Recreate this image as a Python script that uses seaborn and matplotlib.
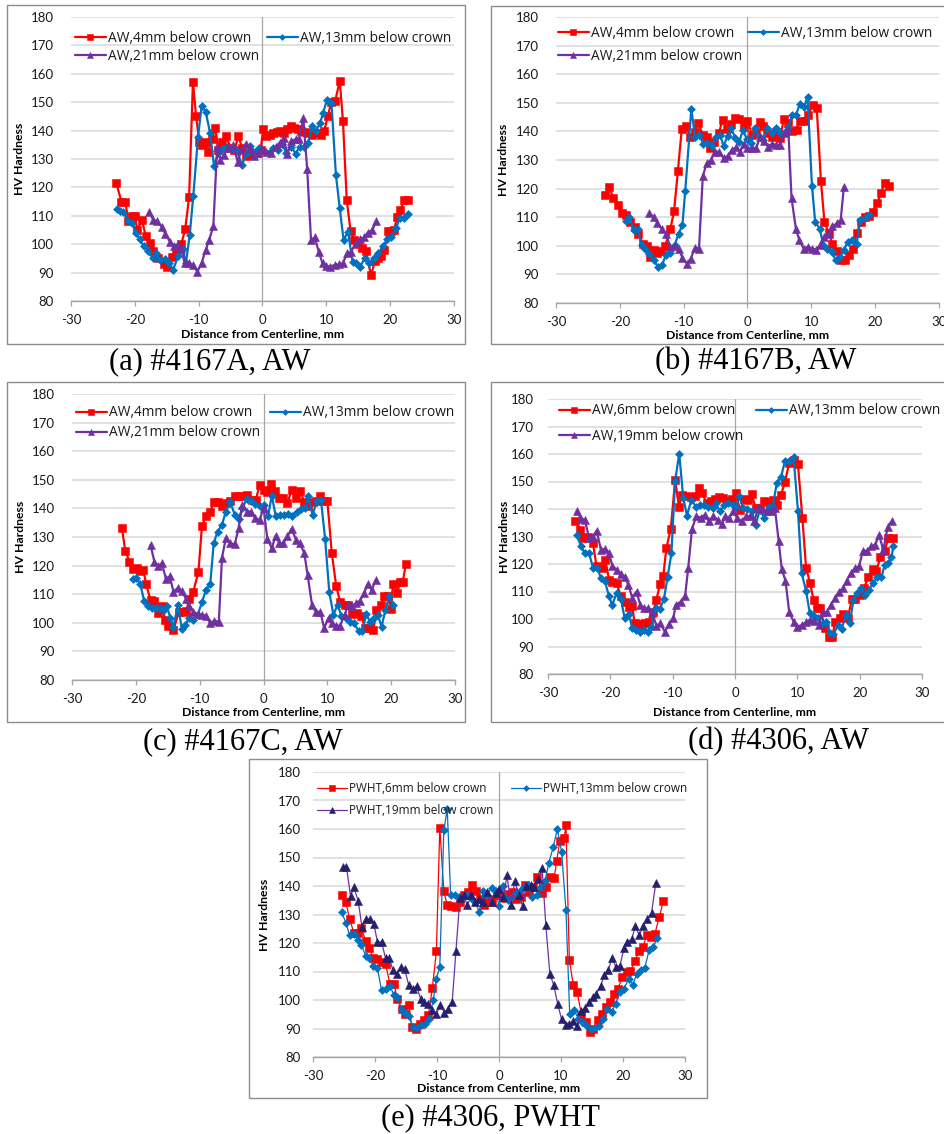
import matplotlib
matplotlib.use("Agg")
import matplotlib.pyplot as plt
from matplotlib.patches import Rectangle
from matplotlib.lines import Line2D
import pandas as pd
import seaborn as sns

# ---------------------------------------------------------------- data
# Hardness traverses: distance from weld centerline (mm) and HV hardness.

# (a) #4167A, AW
a_4mm_x = [-22.9, -22.1, -21.5, -21.0, -20.5, -20.0, -19.6, -18.9, -18.3, -17.7, -17.1, -16.3, -15.5, -15.0,
           -14.2, -13.5, -12.7, -12.1, -11.5, -10.9, -10.4, -9.9, -9.4, -8.9, -8.5, -7.9, -7.4, -6.9, -6.3,
           -5.7, -5.0, -4.4, -3.8, -3.2, -2.6, -2.0, -1.4, -0.8, -0.3, 0.1, 0.6, 1.1, 1.6, 2.2, 2.8, 3.3, 3.9,
           4.4, 5.0, 5.5, 6.0, 6.6, 7.2, 7.8, 8.5, 9.1, 9.7, 10.2, 10.8, 11.4, 12.1, 12.6, 13.2, 13.8, 14.4,
           15.0, 15.6, 16.2, 17.0, 17.6, 18.1, 18.6, 19.1, 19.6, 20.1, 20.6, 21.1, 21.6, 22.2, 22.8]
a_4mm_hv = [121.5, 115, 115, 108, 110, 110, 105, 108.5, 103, 100.5, 97.5, 95, 93, 92,
            95.5, 97.5, 100, 105.5, 116.5, 157, 145, 136, 135, 136, 132.5, 137, 141, 133, 136,
            138, 134, 133, 138, 134, 131, 131.5, 132, 132, 133, 140.5, 138, 138.5, 139, 139.5, 140, 139, 140.5,
            141.5, 141, 140.5, 140, 139.5, 139, 138.5, 139, 138.5, 140, 145, 150, 150.5, 157.5, 143.5, 115.5, 104.5, 101.5,
            100, 98.5, 97.5, 89, 94, 95, 96, 98, 104.5, 104.5, 105, 109.5, 112, 115.5, 115.5]
a_13mm_x = [-22.85, -22.4, -21.8, -21.0, -20.4, -19.8, -19.2, -18.6, -17.9, -17.2, -16.7, -16.1, -15.3, -14.6,
            -14.0, -13.2, -12.5, -12.0, -11.4, -10.85, -10.1, -9.55, -8.9, -8.2, -7.6, -6.9, -6.3, -5.6, -4.85,
            -4.1, -3.2, -2.5, -1.9, -1.2, -0.5, 0.4, 1.0, 1.7, 2.45, 3.1, 3.75, 4.5, 5.2, 5.8, 6.5, 7.15, 7.7,
            8.35, 9.0, 9.5, 10.1, 10.8, 11.5, 12.1, 12.7, 13.4, 14.1, 14.7, 15.3, 16.0, 16.7, 17.4, 18.1, 18.9,
            19.5, 20.2, 20.9, 21.5, 22.1, 22.8]
a_13mm_hv = [112.4, 111.7, 111.3, 108, 107.4, 103.9, 101.7, 99.2, 97.7, 95, 96.8, 94.5, 94.7, 93.3,
             91, 95.9, 98.2, 93.3, 103.3, 116.8, 137.7, 148.5, 146.7, 139, 127.7, 132.1, 133.6, 134.4, 133.5,
             133.2, 128, 132, 134.6, 132.6, 133.8, 132.6, 132, 133.8, 133, 135.2, 132, 134.4, 131.8, 134.4, 134.4, 135.6, 141.5,
             139.7, 142.6, 146.2, 150.9, 149.7, 124.4, 112.7, 101.5, 104.4, 93.9, 93.3, 92.1, 95, 93.3, 95, 96.8, 99.2,
             101.7, 102.4, 105.6, 109.1, 109.1, 110.6]
a_21mm_x = [-17.8, -17.1, -16.5, -15.8, -15.2, -14.5, -13.9, -13.2, -12.7, -12.2, -11.5, -10.85, -10.2, -9.55,
            -8.9, -8.35, -7.7, -7.1, -6.6, -6.0, -5.4, -4.6, -3.9, -3.3, -2.6, -2.0, -1.4, -0.7, 0.0, 0.6, 1.4,
            2.1, 2.7, 3.3, 3.9, 4.5, 5.2, 5.7, 6.4, 7.0, 7.6, 8.2, 8.8, 9.4, 10.0, 10.6, 11.3, 12.0, 12.6, 13.25,
            13.9, 14.6, 15.2, 15.9, 16.5, 17.2, 17.8]
a_21mm_hv = [111.3, 108.6, 108, 106.2, 103.5, 100.9, 99.2, 100.1, 98.2, 93.3, 93.3, 92.7, 90.3, 93.3,
             98, 101.5, 106.4, 134.4, 129.7, 131.5, 133.8, 135, 129.1, 133.2, 135.3, 133.8, 131.1, 132, 133.5, 132.6, 132,
             134.4, 135.8, 137.3, 131.8, 136.2, 137, 137, 144.4, 126.4, 101.5, 102.4, 97.4, 93.3, 92.3, 92.1, 92.7, 92.9, 93.3, 96.8,
             97.4, 100.3, 101.7, 102.4, 104.1, 105, 108]

# (b) #4167B, AW
b_4mm_x = [-22.3, -21.7, -21.0, -20.3, -19.7, -19.0, -18.4, -17.7, -17.1, -16.4, -15.75, -15.3, -14.7, -14.1,
           -13.5, -12.9, -12.1, -11.5, -10.9, -10.3, -9.65, -9.0, -8.3, -7.7, -7.0, -6.4, -5.8, -5.2, -4.5,
           -3.9, -3.2, -2.6, -2.0, -1.3, -0.6, 0.0, 0.7, 1.3, 1.9, 2.5, 3.1, 3.8, 4.4, 5.1, 5.7, 6.4, 7.0, 7.7,
           8.2, 9.0, 9.5, 10.2, 10.85, 11.5, 12.05, 12.7, 13.3, 14.0, 14.6, 15.3, 15.9, 16.6, 17.1, 17.8, 18.4,
           19.0, 19.7, 20.3, 20.9, 21.5, 22.2]
b_4mm_hv = [117.7, 120.7, 116.6, 114.2, 111.3, 110.7, 108.4, 106.6, 104.3, 100.8, 99.9, 96.1, 98.5, 97.5,
            98.2, 99.9, 105.7, 112.2, 126.3, 140.7, 141.9, 138.2, 139.9, 142.8, 138.8, 138, 134.1, 136.4, 139.3,
            144, 140.7, 142.6, 144.6, 144.3, 141.7, 143.8, 138.8, 139.3, 143.2, 141.9, 139.3, 138.2, 139.9, 137.6, 144.3, 142.9, 140.2, 140.5,
            143.8, 143.8, 145.8, 149.3, 148.1, 122.8, 108.4, 104.5, 100.8, 98.2, 95.2, 95, 96.7, 99, 104.5, 108.4, 110.1,
            110.4, 111.9, 114.8, 118.3, 122.1, 121]
b_13mm_x = [-19.1, -18.5, -17.8, -17.2, -16.6, -16.0, -15.4, -14.7, -14.0, -13.4, -12.8, -12.1, -11.4, -10.8,
            -10.2, -9.75, -8.8, -8.2, -7.6, -6.9, -6.3, -5.6, -5.0, -4.3, -3.75, -3.1, -2.55, -1.9, -1.3, -0.7,
            -0.1, 0.5, 1.2, 1.8, 2.5, 3.1, 3.8, 4.5, 5.1, 5.8, 6.4, 7.0, 7.6, 8.2, 8.9, 9.4, 10.1, 10.6, 11.3,
            11.9, 12.5, 13.2, 13.8, 14.5, 15.1, 15.7, 16.3, 17.1, 17.7, 18.4, 19.0]
b_13mm_hv = [108.7, 109.9, 105.5, 106, 100.2, 99, 97.3, 95, 92.6, 93.2, 96.7, 97.5, 100.2, 104.3,
             107.2, 119.3, 147.9, 137.9, 138.8, 135.6, 136.1, 134.9, 137.9, 138.8, 134.9, 138.5, 141.1, 137.6, 136.4, 140.5,
             137.2, 135.8, 141.1, 138.4, 137, 141.1, 139.3, 141.1, 139.3, 139.9, 141.4, 145.8, 145.8, 149.6, 148.7, 152.2, 120.9, 108.4, 106,
             100.2, 99, 97.9, 95, 96.1, 98.5, 101.4, 102, 100.8, 109, 109.6, 110.7]
b_21mm_x = [-15.4, -14.7, -14.1, -13.4, -12.8, -12.1, -11.4, -10.8, -10.2, -9.5, -8.9, -8.2, -7.6, -7.0,
            -6.4, -5.7, -5.1, -4.4, -3.75, -3.1, -2.45, -1.8, -1.15, -0.6, 0.0, 0.7, 1.35, 2.0, 2.6, 3.2, 3.8,
            4.5, 5.1, 5.8, 6.4, 6.9, 7.6, 8.1, 8.8, 9.4, 10.1, 10.7, 11.4, 12.0, 12.7, 13.3, 14.0, 14.6, 15.1]
b_21mm_hv = [111.3, 110.1, 108, 105.7, 104.3, 99.6, 99.9, 99, 95.9, 93.8, 95.5, 99.4, 99, 124.4,
             128.8, 130, 132.9, 132.9, 130.6, 131.4, 133.5, 134.4, 132.9, 135.6, 134.1, 134.1, 134.1, 138.2, 136.8, 134.7, 135.6,
             135.3, 135.3, 139.6, 140.5, 116.6, 105.7, 102.2, 99, 99.6, 99, 98.7, 100.2, 103.1, 104.3, 106.9, 107.8, 109, 120.7]

# (c) #4167C, AW
c_4mm_x = [-22.2, -21.65, -21.0, -20.45, -19.8, -19.3, -18.8, -18.4, -17.7, -17.1, -16.6, -15.9, -15.4, -14.9,
           -14.1, -13.3, -12.6, -12.1, -11.6, -11.0, -10.2, -9.65, -9.0, -8.35, -7.8, -7.15, -6.5, -5.8, -5.2,
           -4.5, -3.9, -3.2, -2.6, -1.8, -1.2, -0.6, 0.0, 0.6, 1.15, 1.8, 2.5, 3.1, 3.75, 4.4, 5.1, 5.7, 6.4,
           7.0, 7.7, 8.2, 8.8, 9.4, 10.0, 10.7, 11.4, 12.0, 12.7, 13.3, 13.9, 14.6, 15.3, 15.9, 16.6, 17.2,
           17.7, 18.4, 18.9, 19.5, 19.9, 20.3, 20.95, 21.4, 21.8, 22.3]
c_4mm_hv = [133.3, 125.2, 121.4, 118.9, 119.1, 118.2, 118.5, 113.5, 108, 107.7, 103.3, 105.7, 101, 99,
            97.5, 103.7, 103.9, 104.2, 108.4, 110.9, 117.7, 133.7, 137.5, 138.7, 142.2, 142.4, 140.7, 141.8, 142.7,
            144.5, 144.5, 144.2, 144.8, 143, 143, 148.3, 146.5, 145.9, 148.5, 146.2, 143.8, 143.6, 141.8, 146.5, 143.8, 146.2, 142.4,
            141, 142.2, 142.7, 144.2, 142.7, 142.7, 124.3, 112.7, 107.4, 106.3, 106.3, 103, 103.3, 102.5, 98.3, 98.1, 97.5,
            104.5, 106.3, 109.2, 109.2, 104.9, 113.5, 110.3, 114.4, 114.2, 120.5]
c_13mm_x = [-20.45, -19.9, -19.3, -18.7, -18.1, -17.5, -16.8, -16.2, -15.65, -15.1, -14.6, -14.1, -13.4, -12.8,
            -12.3, -11.6, -11.0, -10.3, -9.65, -9.0, -8.35, -7.8, -7.2, -6.5, -5.9, -5.2, -4.5, -3.9, -3.3,
            -2.6, -2.0, -1.3, -0.6, 0.0, 0.7, 1.3, 1.9, 2.6, 3.2, 3.9, 4.5, 5.2, 5.85, 6.5, 7.0, 7.7, 8.35,
            9.0, 9.65, 10.3, 10.95, 11.6, 12.2, 12.9, 13.6, 14.2, 14.9, 15.5, 16.1, 16.7, 17.3, 17.9, 18.5,
            19.1, 19.7, 20.3]
c_13mm_hv = [115.4, 115.8, 113.5, 107.7, 106, 105.1, 105.3, 105.1, 104.5, 105.7, 101.6, 98.7, 106.3, 97.9,
             99.3, 101.6, 101, 102.8, 107.2, 111.5, 113.5, 127.8, 131.9, 134.3, 138.9, 142.2, 137.8, 136.4, 140.1,
             143.4, 142.7, 141.5, 141, 141.3, 137.2, 144.5, 137.5, 137.8, 137.8, 138, 137.5, 138.7, 139.9, 140.3, 144.2, 137.8, 142.7,
             143, 129.4, 110.9, 102.8, 106.3, 102.5, 101.8, 100.4, 99.8, 97.2, 97.2, 103, 100.4, 101.6, 102.8, 98.7,
             104.5, 109.5, 106.3]
c_21mm_x = [-17.7, -17.1, -16.5, -15.9, -15.3, -14.7, -14.1, -13.45, -12.8, -12.15, -11.6, -11.0, -10.3, -9.65,
            -9.0, -8.35, -7.7, -7.0, -6.5, -5.9, -5.2, -4.5, -3.9, -3.3, -2.6, -2.0, -1.3, -0.6, 0.0, 0.6, 1.3,
            1.9, 2.5, 3.1, 3.75, 4.4, 5.1, 5.7, 6.4, 6.9, 7.6, 8.2, 8.9, 9.5, 10.2, 10.8, 11.4, 12.0, 12.7, 13.3,
            13.9, 14.5, 15.1, 15.75, 16.3, 16.95, 17.6]
c_21mm_hv = [127.3, 121.4, 119.7, 120.8, 115.4, 116.2, 110.9, 112.1, 111.2, 108.4, 105.7, 103.9, 103, 102.8,
             102.5, 99.8, 100.7, 100.4, 122.8, 129.6, 127.8, 127.5, 133.1, 141.3, 138.9, 138.9, 136.6, 136, 140.3, 129.4, 126.1,
             130.5, 127.8, 127.8, 130.2, 132.9, 129, 127.8, 124.3, 116.8, 106.3, 103.7, 103.9, 98.1, 101.8, 99.8, 99, 99, 102.8, 106.3,
             106, 106.8, 107.7, 110.3, 113.5, 111.5, 115]

# (d) #4306, AW
d_6mm_x = [-25.6, -24.9, -24.4, -23.6, -22.8, -22.2, -21.4, -20.8, -20.2, -19.7, -19.0, -18.3, -17.7, -17.0,
           -16.5, -16.1, -15.5, -15.0, -14.5, -13.8, -13.1, -12.6, -12.05, -11.5, -11.0, -10.3, -9.6, -9.0, -8.5,
           -7.8, -7.1, -6.4, -5.8, -5.25, -4.55, -3.9, -3.2, -2.6, -1.9, -1.2, -0.55, 0.1, 0.8, 1.5, 2.1, 2.7,
           3.3, 4.0, 4.7, 5.4, 6.05, 6.7, 7.4, 8.0, 8.7, 9.4, 10.1, 10.8, 11.4, 12.05, 12.6, 13.1, 13.7, 14.4,
           15.0, 15.6, 16.1, 16.8, 17.3, 18.1, 18.75, 19.3, 20.1, 20.7, 21.4, 22.1, 22.7, 23.3, 24.0, 24.6, 25.3]
d_6mm_hv = [135.5, 132.4, 129.4, 130, 127.6, 119.1, 118.5, 121.5, 114.2, 113.4, 113, 108.2, 106.3, 104.5,
            104.9, 98.4, 98.1, 98.1, 98.4, 99, 102.7, 107, 112.6, 115.8, 126, 132.8, 150.6, 140.9, 145.2,
            144.9, 144.2, 144.6, 147.6, 145.8, 142.1, 143, 143.7, 144.2, 144, 143, 143.7, 145.8, 139.7, 143.7, 143.4, 145.4,
            140.3, 140.3, 143, 142.7, 143.4, 141.3, 145.2, 149.8, 156.7, 157.9, 156.3, 136.9, 118.7, 113, 106.9, 103.9, 103.9, 96.6,
            93.6, 93.6, 99, 100.3, 101.7, 100.3, 107.3, 107.3, 108.8, 111.2, 115.4, 118.2, 117.5, 122.4, 124.8, 129.4, 129.4]
d_13mm_x = [-25.4, -24.7, -24.1, -23.4, -22.8, -22.1, -21.5, -20.9, -20.2, -19.7, -19.0, -18.3, -17.7, -17.0,
            -16.5, -15.9, -15.3, -14.6, -14.0, -13.4, -12.7, -12.05, -11.4, -10.8, -10.2, -9.6, -8.95, -8.3, -7.7,
            -7.0, -6.3, -5.6, -5.0, -4.3, -3.6, -3.1, -2.4, -1.7, -1.1, -0.4, 0.2, 0.7, 1.3, 2.0, 2.7, 3.3,
            4.0, 4.7, 5.4, 6.05, 6.7, 7.4, 8.0, 8.7, 9.4, 10.1, 10.7, 11.4, 12.0, 12.6, 13.3, 13.9, 14.6, 15.2,
            15.8, 16.5, 17.1, 17.8, 18.4, 19.0, 19.65, 20.25, 20.9, 21.5, 22.1, 22.8, 23.5, 24.0, 24.6, 25.1, 25.4]
d_13mm_hv = [130.6, 126.4, 123.9, 123.9, 118.7, 118.7, 114.8, 113.9, 108.2, 105.1, 109.4, 107.3, 100.3, 101.7,
             96.6, 96, 95.2, 96, 95.4, 97.2, 103.9, 103.5, 107.3, 115.4, 123.9, 150.3, 160.1, 144, 137.6,
             143.4, 140.9, 141.3, 141.5, 140.6, 140.3, 142.1, 139.1, 141.3, 142.1, 141.5, 140.9, 144.6, 140.3, 140.1, 139.3, 134.2,
             139.7, 136.7, 140.6, 140.9, 149.4, 151.8, 157.3, 157.5, 158.8, 139.3, 116.6, 110.2, 102.1, 101.2, 100.3, 98.1, 99, 94.8,
             94.4, 97.8, 96.4, 101.5, 98.4, 106.9, 109.4, 111.2, 108.8, 110.6, 113, 115.1, 115.1, 119.7, 120.5, 122.4, 126.4]
d_19mm_x = [-25.4, -24.7, -24.1, -23.4, -22.8, -22.2, -21.5, -20.9, -20.2, -19.7, -19.0, -18.3, -17.7, -17.1,
            -16.5, -15.8, -15.2, -14.6, -14.0, -13.3, -12.6, -12.0, -11.25, -10.6, -9.9, -9.5, -8.7, -8.0, -7.5,
            -6.9, -6.2, -5.5, -4.8, -4.2, -3.5, -2.8, -2.1, -1.6, -0.9, -0.3, 0.4, 1.1, 1.8, 2.4, 3.1, 3.75,
            4.4, 5.1, 5.8, 6.4, 7.0, 7.5, 8.1, 8.7, 9.4, 10.0, 10.7, 11.4, 12.05, 12.75, 13.4, 14.1, 14.7, 15.4,
            16.1, 16.7, 17.3, 17.9, 18.6, 19.3, 19.9, 20.5, 21.2, 21.8, 22.5, 23.1, 23.8, 24.5, 25.2]
d_19mm_hv = [139.3, 136.4, 136.1, 129.4, 130, 132.1, 125.1, 125.5, 123.9, 119.4, 117.9, 116.3, 115.4, 112.4,
             107.8, 110, 105.1, 103.9, 103.9, 102.1, 97.6, 98.4, 95.4, 98.1, 100.3, 105.1, 106.3, 108.5, 118.7,
             132.8, 137.3, 136.9, 137.9, 135.5, 137.3, 136.1, 134.5, 137.3, 136.7, 139.3, 136.7, 135.5, 137.3, 137.3, 135.7, 140.3,
             140.1, 139.3, 139.1, 140.3, 128.4, 118.2, 113.9, 102.5, 99, 97.2, 97.8, 98.8, 99.7, 99.3, 97.8, 102.7, 102.4, 105.1,
             107.8, 110, 111.2, 113.9, 116.7, 118.7, 119.1, 124.8, 124.8, 126.4, 127, 130.6, 125.1, 133.6, 135.7]

# (e) #4306, PWHT
e_6mm_x = [-25.4, -24.7, -24.1, -23.4, -22.7, -22.2, -21.5, -20.9, -20.3, -19.6, -18.95, -18.3, -17.6, -16.95,
           -16.4, -15.7, -15.1, -14.5, -14.1, -13.4, -12.8, -12.1, -11.4, -10.75, -10.1, -9.55, -8.9, -8.35, -7.7,
           -7.0, -6.3, -5.7, -5.0, -4.3, -3.7, -3.1, -2.4, -1.75, -1.05, -0.4, 0.3, 0.95, 1.65, 2.3, 2.8, 3.5,
           4.2, 4.9, 5.5, 6.2, 6.9, 7.6, 8.2, 8.9, 9.3, 9.8, 10.5, 10.8, 11.35, 12.0, 12.6, 13.3, 14.0, 14.6,
           15.2, 15.9, 16.55, 17.2, 17.9, 18.5, 19.2, 19.9, 20.6, 21.2, 21.9, 22.6, 23.25, 23.8, 24.45, 25.15,
           25.85, 26.5]
e_6mm_hv = [137, 134.4, 128.3, 123.6, 123.6, 125.3, 120.6, 118.2, 114.7, 114.3, 113.3, 112.7, 105.7, 105.7,
            100.5, 96.7, 95.2, 98.4, 90.5, 89.9, 91.7, 92.9, 94.6, 104.2, 117.1, 160.4, 138.1, 133.2, 133,
            132.6, 134.4, 137, 137.9, 140.2, 138.1, 135.3, 133.4, 135.6, 134.4, 137, 137, 135.8, 137.3, 137.9, 135.3, 136.1,
            140.5, 137.9, 139.6, 143.2, 137.7, 139.6, 143.2, 142.8, 148.7, 155.7, 156.8, 161.3, 113.9, 105.1, 102.8, 94.9, 92.3, 88.8,
            89.9, 92.9, 95.2, 97.5, 99.3, 102.2, 104, 108.1, 109.8, 110.1, 113.6, 117.1, 118.6, 122.7, 122.1, 123.3,
            129.1, 134.6]
e_13mm_x = [-25.4, -24.7, -24.1, -23.4, -22.7, -22.2, -21.5, -20.9, -20.3, -19.6, -18.95, -18.3, -17.6, -16.95,
            -16.4, -15.7, -15.1, -14.5, -13.9, -13.2, -12.5, -11.9, -11.3, -10.6, -10.1, -9.55, -8.9, -8.35, -7.8,
            -7.1, -6.5, -5.8, -5.1, -4.45, -3.8, -3.2, -2.55, -1.9, -1.2, -0.5, 0.0, 0.7, 1.4, 2.0, 2.7, 3.4,
            4.0, 4.7, 5.35, 6.05, 6.7, 7.4, 8.05, 8.75, 9.4, 10.1, 10.8, 11.4, 12.1, 12.8, 13.4, 14.1, 14.8,
            15.5, 16.1, 16.8, 17.5, 18.2, 18.8, 19.5, 20.2, 20.9, 21.6, 22.2, 22.85, 23.5, 24.2, 24.9, 25.5]
e_13mm_hv = [130.9, 127.1, 122.7, 123.3, 120.9, 119.4, 115.4, 114.7, 111.9, 111.2, 103.4, 103.7, 104.9, 101.9,
             101.1, 96.4, 95.6, 94.4, 90.5, 90.2, 91.3, 91.7, 93.5, 99.9, 107.5, 111.6, 159.5, 166.9, 137,
             136.7, 136.1, 135.8, 137, 135.8, 134.4, 130.9, 138.1, 137, 139.3, 138.1, 133, 140, 135, 135.8, 137.7, 138.1,
             139.6, 140.5, 136.1, 136.7, 139.6, 141.6, 148.2, 153.7, 159.9, 151.9, 131.5, 95.2, 96.4, 93.5, 92.3, 91.3, 89.9,
             90.2, 90.9, 93.5, 96.7, 95.8, 98.7, 102.8, 104, 107.5, 105.1, 109.2, 110.4, 111.2, 117.4, 118.6, 121.8]
e_19mm_x = [-25.2, -24.6, -23.95, -23.4, -22.7, -22.1, -21.5, -20.85, -20.2, -19.6, -18.95, -18.3, -17.7, -17.1,
            -16.45, -15.85, -15.2, -14.55, -13.95, -13.3, -12.65, -12.05, -11.4, -10.75, -10.1, -9.45, -8.85, -8.2,
            -7.55, -6.95, -6.3, -5.7, -5.1, -4.45, -3.8, -3.2, -2.55, -1.9, -1.2, -0.55, 0.0, 0.7, 1.3, 1.9, 2.55,
            3.2, 3.8, 4.4, 5.1, 5.7, 6.3, 6.95, 7.55, 8.2, 8.85, 9.45, 10.1, 10.75, 11.35, 12.0, 12.6, 13.2, 13.85,
            14.5, 15.1, 15.7, 16.4, 16.95, 17.6, 18.25, 18.85, 19.5, 20.15, 20.7, 21.4, 22.0, 22.6, 23.3, 23.9,
            24.6, 25.3]
e_19mm_hv = [146.7, 146.7, 136.5, 139.6, 134.6, 125.6, 128.5, 128.5, 126.8, 120.4, 120.4, 114.7, 114.7, 110.4,
             109.2, 111.6, 110.8, 105.1, 103.7, 104.9, 100.5, 99.3, 98.7, 96.4, 95.2, 98.4, 95.6, 97,
             99.3, 117.1, 135.8, 136.7, 133.2, 136.7, 134.4, 135.6, 134.4, 137.9, 134.4, 137.7, 139.1, 136.1, 143.7, 133.4, 141.6,
             137, 133, 140, 140.2, 139.6, 142.3, 146.3, 126.4, 109.2, 105.1, 98.7, 93.2, 91.3, 91.7, 92.5, 90.9, 96, 97.2,
             99.3, 101.1, 102.2, 104.9, 108.7, 110.4, 114.7, 111.6, 111.9, 118.2, 120.4, 121.3, 126, 122.7, 126, 128.5,
             130.6, 141.2]

labels_abc = ["AW,4mm below crown", "AW,13mm below crown", "AW,21mm below crown"]
labels_d = ["AW,6mm below crown", "AW,13mm below crown", "AW,19mm below crown"]
labels_e = ["PWHT,6mm below crown", "PWHT,13mm below crown", "PWHT,19mm below crown"]
captions = ["(a) #4167A, AW", "(b) #4167B, AW", "(c) #4167C, AW", "(d) #4306, AW", "(e) #4306, PWHT"]
x_ticks = [-30, -20, -10, 0, 10, 20, 30]
y_ticks = [80, 90, 100, 110, 120, 130, 140, 150, 160, 170, 180]

# ---------------------------------------------------------------- style
sns.set_theme(style="white")
plt.rcParams["font.family"] = ["Lato", "DejaVu Sans"]

W, H = 945, 1134
fig = plt.figure(figsize=(W / 100, H / 100), dpi=100)

RED, BLUE, PURPLE, NAVY = "#FF0000", "#0070C0", "#7030A0", "#24206E"
GRID, AXIS, FRAME = "#D9D9D9", "#A6A6A6", "#8C8C8C"
LEGEND_FONT = ["Open Sans", "DejaVu Sans"]


def to_frame(df_x, df_y, name):
    return pd.DataFrame({"x": df_x, "hv": df_y, "series": name})


def panel(plot_px, frame_px, cap_xy, series, labels, thin, leg, xlab_off, ylab_off, ytick_pad):
    l, t, r, b = plot_px
    ax = fig.add_axes([l / W, 1 - b / H, (r - l) / W, (b - t) / H])
    ax.patch.set_alpha(0)

    # chart-area frame and caption
    fl, ft, fr, fb = frame_px
    fig.add_artist(Rectangle((fl / W, 1 - fb / H), (fr - fl) / W, (fb - ft) / H,
                             transform=fig.transFigure, fill=False, edgecolor=FRAME, lw=1.0))
    fig.text(cap_xy[0] / W, 1 - cap_xy[1] / H, cap_xy[2], family="Liberation Serif",
             fontsize=22, ha="center", va="center", color="black")

    lw = 0.9 if thin else 1.6
    styles = [
        dict(color=RED, marker="s", markersize=6.0 if thin else 5.4, mfc=RED, mec=RED),
        dict(color=BLUE, marker="D", markersize=4.0 if thin else 3.6, mfc=BLUE, mec=BLUE),
        dict(color=PURPLE, marker="^", markersize=6.0 if thin else 5.6,
             mfc=NAVY if thin else PURPLE, mec=NAVY if thin else PURPLE),
    ]
    leg_ms = [4.6, 3.0, 4.6]
    handles = []
    for (sx, sy), lab, st, lms in zip(series, labels, styles, leg_ms):
        df = to_frame(sx, sy, lab)
        sns.lineplot(data=df, x="x", y="hv", ax=ax, sort=False, estimator=None,
                     color=st["color"], linewidth=lw, marker=st["marker"],
                     markersize=st["markersize"], markerfacecolor=st["mfc"],
                     markeredgecolor=st["mec"], markeredgewidth=0.4, legend=False, zorder=3)
        handles.append(Line2D([], [], color=st["color"], lw=lw, marker=st["marker"],
                              markersize=lms, markerfacecolor=st["mfc"],
                              markeredgecolor=st["mec"], markeredgewidth=0.4))

    ax.set_xlim(-30, 30)
    ax.set_ylim(80, 180)
    ax.set_xticks(x_ticks)
    ax.set_yticks(y_ticks)
    ax.set_xticklabels([str(v) for v in x_ticks])
    ax.set_yticklabels([str(v) for v in y_ticks])
    ax.yaxis.grid(True, color=GRID, lw=1.1, zorder=0)
    ax.xaxis.grid(False)
    ax.set_axisbelow(True)
    ax.axvline(0, color=AXIS, lw=0.9, zorder=1)
    for s in ["left", "right", "top"]:
        ax.spines[s].set_visible(False)
    ax.spines["bottom"].set_color(AXIS)
    ax.spines["bottom"].set_linewidth(1.0)
    ax.tick_params(axis="x", direction="out", length=3.5, width=0.9, color=AXIS,
                   pad=6, labelsize=9.5, labelcolor="#1a1a1a", bottom=True)
    ax.tick_params(axis="y", length=0, pad=ytick_pad, labelsize=9.5, labelcolor="#1a1a1a")

    ax.set_xlabel("Distance from Centerline, mm", fontsize=8.8, fontweight="bold", color="black")
    ax.set_ylabel("HV Hardness", fontsize=8.8, fontweight="bold", color="black")
    ax.xaxis.label.set_verticalalignment("center")
    ax.yaxis.label.set_verticalalignment("center")
    ax.xaxis.set_label_coords(0.5, -xlab_off / (b - t))
    ax.yaxis.set_label_coords(-ylab_off / (r - l), 0.5)

    # legend entries: red and purple stacked on the left, blue beside red
    hx, row1, row2, col2, fs, hlen, hpad = leg
    ax_x = lambda px: (px - l) / (r - l)
    ax_y = lambda py: 1 - (py - t) / (b - t)
    spots = [(hx, row1), (col2, row1), (hx, row2)]
    for i, (h, lab, (px, py)) in enumerate(zip(handles, labels, spots)):
        lg = ax.legend([h], [lab], loc="center left", bbox_to_anchor=(ax_x(px), ax_y(py)),
                       frameon=False, borderpad=0, borderaxespad=0, handlelength=hlen,
                       handletextpad=hpad, labelcolor="#1a1a1a",
                       prop=dict(family=LEGEND_FONT, size=fs))
        if i < 2:
            ax.add_artist(lg)
    return ax


panel((71, 17, 454, 301), (7, 5, 465, 344), (210, 362, captions[0]),
      [(a_4mm_x, a_4mm_hv), (a_13mm_x, a_13mm_hv), (a_21mm_x, a_21mm_hv)], labels_abc, False,
      (75, 38.3, 56.7, 267, 9.9, 2.25, 0.18), 33, 51, 12.5)
panel((556, 17, 939, 303), (491, 6, 952, 344), (756, 362, captions[1]),
      [(b_4mm_x, b_4mm_hv), (b_13mm_x, b_13mm_hv), (b_21mm_x, b_21mm_hv)], labels_abc, False,
      (558, 33.5, 56, 748, 9.9, 2.25, 0.18), 32, 52, 12.5)
panel((72, 394, 455, 680), (7, 382, 465, 722), (243, 742, captions[2]),
      [(c_4mm_x, c_4mm_hv), (c_13mm_x, c_13mm_hv), (c_21mm_x, c_21mm_hv)], labels_abc, False,
      (76, 413, 433, 270, 9.9, 2.25, 0.18), 32, 51, 12.5)
panel((548, 399, 922, 674), (491, 382, 952, 722), (779, 742, captions[3]),
      [(d_6mm_x, d_6mm_hv), (d_13mm_x, d_13mm_hv), (d_19mm_x, d_19mm_hv)], labels_d, False,
      (559, 411, 436, 756, 9.9, 2.25, 0.18), 38, 44, 10)
panel((313, 772, 685, 1057), (249, 759, 707, 1098), (491, 1118, captions[4]),
      [(e_6mm_x, e_6mm_hv), (e_13mm_x, e_13mm_hv), (e_19mm_x, e_19mm_hv)], labels_e, True,
      (317, 789, 811, 511, 8.5, 2.5, 0.25), 31, 49, 8.6)

fig.savefig("out.png", dpi=100, facecolor="white")
